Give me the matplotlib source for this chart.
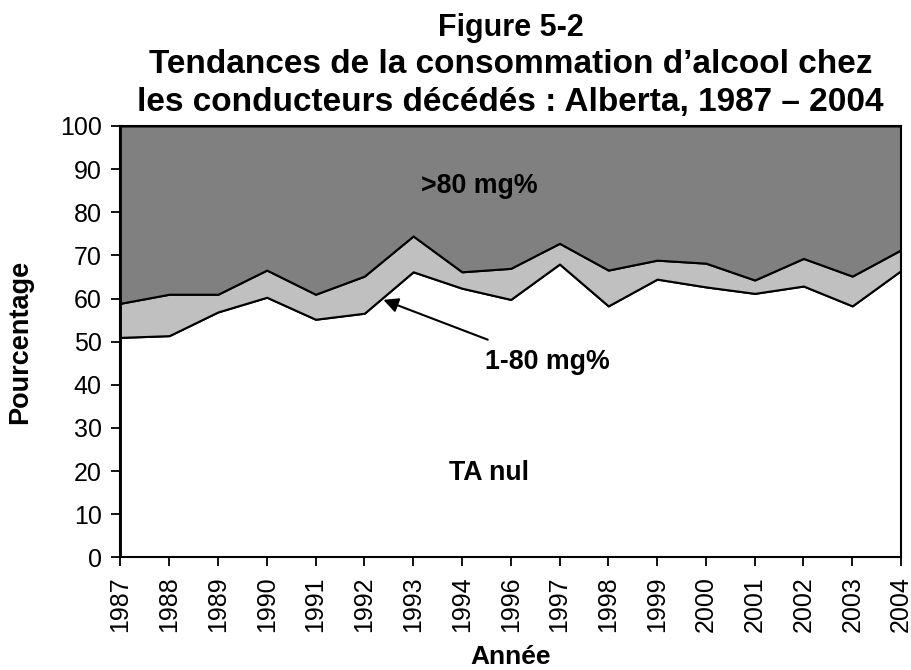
import numpy as np
import matplotlib
matplotlib.use("Agg")
import matplotlib.pyplot as plt

plt.rcParams['font.family'] = ['Liberation Sans', 'DejaVu Sans']

# categories (1995 missing in the source)
years = ['1987', '1988', '1989', '1990', '1991', '1992', '1993', '1994', '1996',
         '1997', '1998', '1999', '2000', '2001', '2002', '2003', '2004']

# percentages
ta_nul = [51.0, 51.4, 56.9, 60.3, 55.2, 56.6, 66.2, 62.4, 59.8,
          68.0, 58.3, 64.5, 62.7, 61.2, 62.9, 58.3, 66.5]
low_bac = [7.9, 9.6, 4.1, 6.3, 5.8, 8.6, 8.3, 3.8, 7.2,
           4.8, 8.3, 4.4, 5.5, 3.1, 6.4, 6.9, 4.8]
high_bac = [41.1, 39.0, 39.0, 33.4, 39.0, 34.8, 25.5, 33.8, 33.0,
            27.2, 33.4, 31.1, 31.8, 35.7, 30.7, 34.8, 28.7]

title_lines = ["Figure 5-2",
               "Tendances de la consommation d\u2019alcool chez",
               "les conducteurs d\u00e9c\u00e9d\u00e9s : Alberta, 1987 \u2013 2004"]

fig = plt.figure(figsize=(9.12, 6.70), dpi=100)
ax = fig.add_axes([0.132, 0.168, 0.856, 0.644])

x = np.arange(len(years))
ax.stackplot(x, ta_nul, low_bac, high_bac,
             colors=['white', '#c0c0c0', '#808080'],
             edgecolor='black', linewidth=1.5)

ax.set_xlim(0, len(years) - 1)
ax.set_ylim(0, 100)
ax.set_yticks(range(0, 101, 10))
ax.set_xticks(x)
ax.set_xticklabels(years, rotation=90)
ax.tick_params(direction='out', length=6.5, width=1.3, labelsize=18, pad=7)

for s in ax.spines.values():
    s.set_linewidth(1.5)
    s.set_color('black')

ax.set_ylabel('Pourcentage', fontsize=19.5, fontweight='bold')
ax.yaxis.set_label_coords(-0.112, 0.5)
ax.set_xlabel('Ann\u00e9e', fontsize=19, fontweight='bold')
ax.xaxis.set_label_coords(0.5, -0.203)

# title: three centred lines, first one a bit smaller
cx = 0.132 + 0.856 / 2
fig.text(cx, 1 - 35.7 / 670, title_lines[0], fontsize=22, fontweight='bold',
         ha='center', va='baseline')
fig.text(cx, 1 - 72.7 / 670, title_lines[1], fontsize=24, fontweight='bold',
         ha='center', va='baseline')
fig.text(cx, 1 - 111 / 670, title_lines[2], fontsize=24, fontweight='bold',
         ha='center', va='baseline')

# band labels
ax.text(7.35, 86, '>80 mg%', fontsize=19.3, fontweight='bold', ha='center', va='center')
ax.text(7.55, 19.5, 'TA nul', fontsize=19.3, fontweight='bold', ha='center', va='center')
ax.annotate('1-80 mg%', xy=(5.39, 59.7), xytext=(7.47, 45.2),
            fontsize=19.3, fontweight='bold', ha='left', va='center',
            arrowprops=dict(arrowstyle='-|>', color='black', lw=1.5,
                            mutation_scale=22, shrinkA=14, shrinkB=0))

fig.savefig('out.png', dpi=100)
